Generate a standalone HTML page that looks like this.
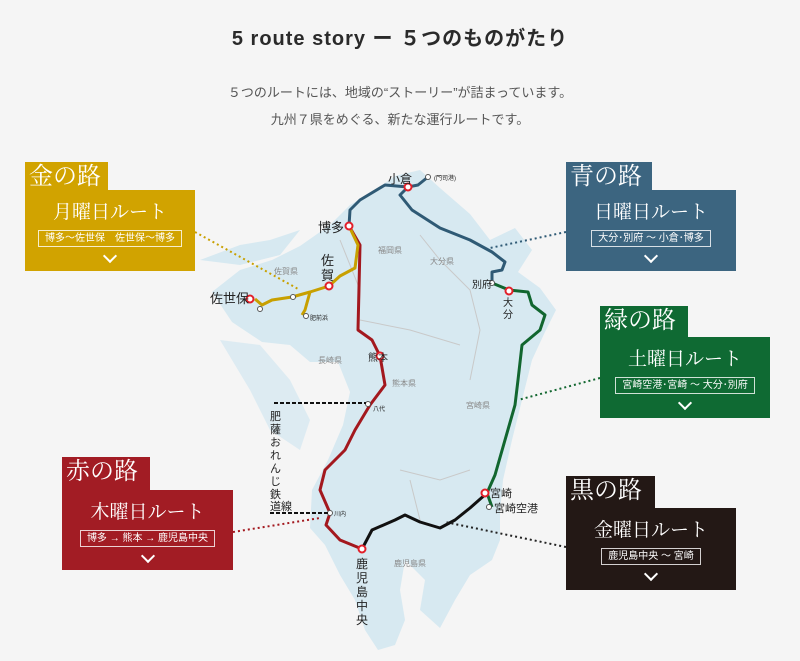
<!DOCTYPE html>
<html><head><meta charset="utf-8"><style>
body{margin:0;width:800px;height:661px;background:#f5f5f5;overflow:hidden;font-family:"Liberation Sans","Noto Sans CJK JP",sans-serif;position:relative}
.t{position:absolute;left:0;width:800px;text-align:center;color:#333}
.tab{position:absolute;color:#fff;font-family:"Liberation Serif","Noto Serif CJK SC",serif;font-size:24px;line-height:30px;padding-left:4px;box-sizing:border-box;white-space:nowrap;overflow:hidden}
.box{position:absolute;color:#fff;text-align:center;box-sizing:border-box}
.box .n{font-family:"Liberation Serif","Noto Serif CJK SC",serif;font-size:19px;margin-top:11px;line-height:24px}
.box .s{display:inline-block;border:1px solid rgba(255,255,255,.8);font-size:10px;line-height:15px;padding:0 6px;margin-top:5px}
.box .c{width:8px;height:8px;border-right:2px solid #fff;border-bottom:2px solid #fff;transform:rotate(45deg);margin:4px auto 0}
</style></head><body>
<div class="t" style="top:22px;font-size:20px;letter-spacing:1px;font-weight:bold;color:#2a2a2a">5 route story ー ５つのものがたり</div>
<div class="t" style="top:82px;font-size:13px;color:#555">５つのルートには、地域の“ストーリー”が詰まっています。</div>
<div class="t" style="top:109px;font-size:13px;color:#555">九州７県をめぐる、新たな運行ルートです。</div>
<svg style="position:absolute;left:0;top:0" width="800" height="661">
<path d="M395,176 L420,170 L440,188 L470,214 L490,240 L515,228 L532,250 L518,272 L540,288 L556,310 L545,332 L532,360 L522,400 L512,440 L503,480 L500,512 L500,540 L492,560 L470,575 L455,600 L440,628 L420,610 L425,580 L405,560 L400,590 L405,620 L395,645 L378,650 L365,630 L355,600 L340,575 L325,545 L310,528 L312,490 L328,460 L343,425 L350,392 L338,362 L310,362 L290,345 L262,342 L232,322 L212,292 L240,270 L272,260 L300,246 L330,225 L350,205 L375,190 Z" fill="#d7e9f1"/>
<path d="M200,260 L240,245 L270,240 L300,230 L280,255 L240,265 Z" fill="#d7e9f1"/>
<path d="M220,340 L260,345 L290,380 L310,420 L300,450 L270,430 L250,390 Z" fill="#d7e9f1" opacity=".8"/>
<g fill="none" stroke="#c9c9c9" stroke-width="1">
<path d="M340,240 L360,290 L358,330"/><path d="M420,235 L440,260 L470,290 L480,330 L470,380"/><path d="M360,320 L410,330 L460,345"/><path d="M400,470 L440,480 L470,470"/><path d="M410,480 L420,520"/>
</g>
<g fill="none" stroke-width="3" stroke-linejoin="round">
<path d="M428,177 L418,185 L408,187 L400,195 L412,210 L440,228 L470,240 L492,252 L505,262 L502,270 L492,272 L492,283" stroke="#2f5a75"/>
<path d="M408,187 L385,185 L360,200 L350,210 L349,226" stroke="#2f5a75"/>
<path d="M492,283 L509,290 L528,292 L532,305 L545,315 L540,330 L522,345 L518,380 L515,405 L505,440 L495,475 L487,493 L492,507" stroke="#11662f"/>
<path d="M362,549 L372,530 L395,520 L405,515 L420,522 L440,528 L455,520 L470,508 L487,493" stroke="#111"/>
<path d="M349,226 L360,245 L358,330 L372,340 L380,356 L385,385 L370,405 L355,430 L345,450 L325,470 L320,490 L330,513 L326,525 L340,540 L362,549" stroke="#a3181e"/>
<path d="M349,226 L358,245 L355,268 L340,276 L329,286 L310,292 L292,297 L272,300 L262,305 L255,299" stroke="#c8a000"/>
<path d="M310,292 L305,310 L302,315" stroke="#c8a000"/>
</g>
<g fill="#fff" stroke="#e2202a" stroke-width="2">
<circle cx="408" cy="187" r="3.5"/><circle cx="349" cy="226" r="3.5"/><circle cx="329" cy="286" r="3.5"/><circle cx="250" cy="299" r="3.5"/><circle cx="380" cy="356" r="3.5"/><circle cx="509" cy="291" r="3.5"/><circle cx="485" cy="493" r="3.5"/><circle cx="362" cy="549" r="3.5"/>
</g>
<g fill="#fff" stroke="#555" stroke-width="1">
<circle cx="428" cy="177" r="2.5"/><circle cx="492" cy="283" r="2.5"/><circle cx="368" cy="404" r="2.5"/><circle cx="330" cy="513" r="2.5"/><circle cx="489" cy="507" r="2.5"/><circle cx="260" cy="309" r="2.5"/><circle cx="293" cy="297" r="2.5"/><circle cx="306" cy="316" r="2.5"/>
</g>
<g stroke-width="2" stroke-dasharray="2,3" fill="none">
<path d="M195,232 L300,290" stroke="#c8a000"/>
<path d="M566,232 L490,248" stroke="#2f5a75"/>
<path d="M600,378 L518,400" stroke="#11662f"/>
<path d="M233,532 L320,518" stroke="#a3181e"/>
<path d="M566,547 L445,522" stroke="#222"/>
<path d="M274,403 L366,403" stroke="#111" stroke-dasharray="4,2"/>
<path d="M270,513 L328,513" stroke="#111" stroke-dasharray="4,2"/>
</g>
<g font-family="Liberation Sans,Noto Sans CJK JP,sans-serif" fill="#222">
<text x="388" y="183" font-size="12">小倉</text><text x="434" y="180" font-size="6">(門司港)</text>
<text x="318" y="232" font-size="13">博多</text><text x="321" y="265" font-size="13">佐</text><text x="321" y="280" font-size="13">賀</text>
<text x="210" y="303" font-size="13">佐世保</text><text x="368" y="361" font-size="10">熊本</text>
<text x="472" y="288" font-size="10">別府</text><text x="503" y="306" font-size="10">大</text><text x="503" y="318" font-size="10">分</text>
<text x="490" y="497" font-size="11">宮崎</text><text x="494" y="512" font-size="11">宮崎空港</text>
<text x="373" y="411" font-size="6">八代</text><text x="334" y="516" font-size="6">川内</text><text x="310" y="320" font-size="6">肥前浜</text>
<g font-size="12"><text x="356" y="568">鹿</text><text x="356" y="582">児</text><text x="356" y="596">島</text><text x="356" y="610">中</text><text x="356" y="624">央</text></g>
<g font-size="11"><text x="270" y="420">肥</text><text x="270" y="433">薩</text><text x="270" y="446">お</text><text x="270" y="459">れ</text><text x="270" y="472">ん</text><text x="270" y="485">じ</text><text x="270" y="498">鉄</text><text x="270" y="510">道線</text></g>
<g fill="#888" font-size="8"><text x="378" y="253">福岡県</text><text x="274" y="274">佐賀県</text><text x="430" y="264">大分県</text><text x="318" y="363">長崎県</text><text x="392" y="386">熊本県</text><text x="466" y="408">宮崎県</text><text x="394" y="566">鹿児島県</text></g>
</g>
</svg>
<div class="tab" style="left:25px;top:162px;width:83px;height:30px;background:#d1a300">金の路</div>
<div class="box" style="left:25px;top:190px;width:170px;height:81px;background:#d1a300"><div class="n">月曜日ルート</div><div class="s">博多～佐世保　佐世保～博多</div><div class="c"></div></div>
<div class="tab" style="left:566px;top:162px;width:86px;height:30px;background:#3c6580">青の路</div>
<div class="box" style="left:566px;top:190px;width:170px;height:81px;background:#3c6580"><div class="n">日曜日ルート</div><div class="s">大分･別府 ～ 小倉･博多</div><div class="c"></div></div>
<div class="tab" style="left:600px;top:306px;width:88px;height:32px;background:#0f6a33">緑の路</div>
<div class="box" style="left:600px;top:337px;width:170px;height:81px;background:#0f6a33"><div class="n">土曜日ルート</div><div class="s">宮崎空港･宮崎 ～ 大分･別府</div><div class="c"></div></div>
<div class="tab" style="left:62px;top:457px;width:88px;height:33px;background:#a21c24">赤の路</div>
<div class="box" style="left:62px;top:490px;width:171px;height:80px;background:#a21c24"><div class="n">木曜日ルート</div><div class="s">博多 → 熊本 → 鹿児島中央</div><div class="c"></div></div>
<div class="tab" style="left:566px;top:476px;width:89px;height:33px;background:#231815">黒の路</div>
<div class="box" style="left:566px;top:508px;width:170px;height:82px;background:#231815"><div class="n">金曜日ルート</div><div class="s">鹿児島中央 ～ 宮崎</div><div class="c"></div></div>
</body></html>
